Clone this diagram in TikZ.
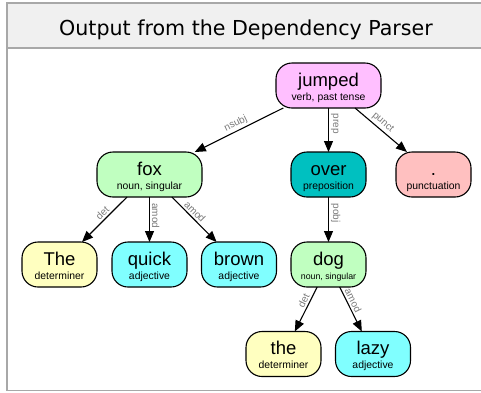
\documentclass[tikz,border=0pt]{standalone}
\usepackage{fontspec}
\setmainfont{Liberation Sans}
\newfontfamily\titlefont{DejaVu Sans}
\usetikzlibrary{arrows.meta}
\definecolor{cJumped}{HTML}{FFBFFF}
\definecolor{cNoun}{HTML}{C0FFC0}
\definecolor{cPrep}{HTML}{00C0C0}
\definecolor{cPunct}{HTML}{FFC0C0}
\definecolor{cDet}{HTML}{FFFFC0}
\definecolor{cAdj}{HTML}{80FFFF}
\definecolor{frameGray}{HTML}{A8A8A8}
\definecolor{bandGray}{HTML}{F0F0F0}
\definecolor{labGray}{HTML}{7A7A7A}
\begin{document}
\begin{tikzpicture}[x=1pt,y=-1pt,
  wbox/.style={draw=black, line width=1.1pt, rounded corners=16pt, minimum height=45pt, inner sep=0pt, outer sep=0pt},
  wide/.style={minimum width=105pt},
  narrow/.style={minimum width=75pt},
  word/.style={anchor=base, font=\fontsize{18.5}{20}\selectfont, inner sep=0pt},
  sub/.style={anchor=base, font=\fontsize{10.4}{12}\selectfont, inner sep=0pt},
  smallsub/.style={anchor=base, font=\fontsize{8.8}{10}\selectfont, inner sep=0pt},
  dep/.style={-{Triangle[length=11pt,width=9pt]}, line width=1.1pt},
  lab/.style={sloped, font=\fontsize{10}{11}\selectfont, text=labGray, inner sep=2pt}
]
\useasboundingbox (0,0) rectangle (481,392);
% frame and title band
\path[fill=white, draw=frameGray, line width=1.7pt] (7,3) rectangle (492,390.5);
\path[fill=bandGray, draw=frameGray, line width=1.4pt] (7,3) rectangle (492,48);
\node[anchor=base, inner sep=0pt, font=\titlefont\fontsize{20.6}{24}\selectfont] (title) at (246,35) {Output from the Dependency Parser};

% boxes
\node[wbox, wide, fill=cJumped] (jumped) at (328.5,85.5) {};
\node[wbox, wide, fill=cNoun] (fox) at (149.5,174.5) {};
\node[wbox, narrow, fill=cPrep] (over) at (328.5,174.5) {};
\node[wbox, narrow, fill=cPunct] (punct) at (433.5,174.5) {};
\node[wbox, narrow, fill=cDet] (The) at (59.5,264.5) {};
\node[wbox, narrow, fill=cAdj] (quick) at (149.5,264.5) {};
\node[wbox, narrow, fill=cAdj] (brown) at (239,264.5) {};
\node[wbox, narrow, fill=cNoun] (dog) at (328.5,264.5) {};
\node[wbox, narrow, fill=cDet] (the) at (283.5,354) {};
\node[wbox, narrow, fill=cAdj] (lazy) at (373,354) {};

% texts
\node[word] (jumpedW) at ([yshift=-23pt]jumped.north) {jumped};
\node[sub] (jumpedS) at ([yshift=-37pt]jumped.north) {verb, past tense};
\node[word] (foxW) at ([yshift=-23pt]fox.north) {fox};
\node[sub] (foxS) at ([yshift=-37pt]fox.north) {noun, singular};
\node[word] (overW) at ([yshift=-23pt]over.north) {over};
\node[sub] (overS) at ([yshift=-37pt]over.north) {preposition};
\node[word] (punctW) at ([yshift=-23pt]punct.north) {.};
\node[sub] (punctS) at ([yshift=-37pt]punct.north) {punctuation};
\node[word] (TheW) at ([yshift=-23pt]The.north) {The};
\node[sub] (TheS) at ([yshift=-37pt]The.north) {determiner};
\node[word] (quickW) at ([yshift=-23pt]quick.north) {quick};
\node[sub] (quickS) at ([yshift=-37pt]quick.north) {adjective};
\node[word] (brownW) at ([yshift=-23pt]brown.north) {brown};
\node[sub] (brownS) at ([yshift=-37pt]brown.north) {adjective};
\node[word] (dogW) at ([yshift=-23pt]dog.north) {dog};
\node[smallsub] (dogS) at ([yshift=-37pt]dog.north) {noun, singular};
\node[word] (theW) at ([yshift=-23pt]the.north) {the};
\node[sub] (theS) at ([yshift=-37pt]the.north) {determiner};
\node[word] (lazyW) at ([yshift=-23pt]lazy.north) {lazy};
\node[sub] (lazyS) at ([yshift=-37pt]lazy.north) {adjective};

% dependencies
\draw[dep] (jumped) -- node[lab, above, pos=0.5] {nsubj} (fox);
\draw[dep] (jumped) -- node[lab, above, pos=0.36] {prep} (over);
\draw[dep] (jumped) -- node[lab, above, pos=0.45] {punct} (punct);
\draw[dep] (fox) -- node[lab, above, pos=0.45] {det} (The);
\draw[dep] (fox) -- node[lab, above, pos=0.42] {amod} (quick);
\draw[dep] (fox) -- node[lab, above, pos=0.42] {amod} (brown);
\draw[dep] (over) -- node[lab, above, pos=0.36] {pobj} (dog);
\draw[dep] (dog) -- node[lab, above, pos=0.36] {det} (the);
\draw[dep] (dog) -- node[lab, above, pos=0.36] {amod} (lazy);
\end{tikzpicture}
\end{document}
